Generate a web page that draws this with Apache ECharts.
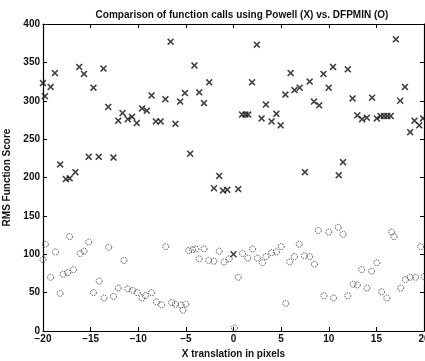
<!DOCTYPE html>
<html>
<head>
<meta charset="utf-8">
<script src="https://cdn.jsdelivr.net/npm/echarts@6/dist/echarts.min.js"></script>
<style>
html, body { margin: 0; padding: 0; background: #fff; }
#main { width: 425px; height: 361px; }
</style>
</head>
<body>
<div id="main"></div>
<script>
// Powell (X) points
var powellX = [-20, -19.8, -19.2, -18.75, -18.2, -17.6, -17.2, -16.6, -16.2, -15.7,
  -15.2, -14.7, -14.15, -13.65, -13.15, -12.6, -12.1, -11.65, -11.1, -10.65,
  -10.15, -9.6, -9.1, -8.6, -8.15, -7.65, -7.15, -6.6, -6.1, -5.6,
  -5.1, -4.55, -4.1, -3.6, -3.1, -2.55, -2.05, -1.5, -1.1, -0.65,
  0, 0.5, 0.9, 1.25, 1.55, 1.95, 2.45, 2.95, 3.4, 4.0,
  4.5, 4.95, 5.45, 6.0, 6.4, 6.95, 7.5, 8.0, 8.45, 9.0,
  9.45, 10.0, 10.45, 11.05, 11.5, 12.0, 12.5, 13.0, 13.5, 14.0,
  14.55, 15.05, 15.45, 15.8, 16.15, 16.5, 17.05, 17.5, 18.0, 18.55,
  19.0, 19.5, 19.9];
var powellY = [323, 306, 318, 336, 217, 198, 199, 207, 344, 335,
  227, 317, 227, 342, 292, 226, 274, 284, 276, 279,
  271, 290, 287, 307, 273, 273, 302, 377, 270, 299,
  310, 231, 346, 311, 297, 324, 186, 202, 183, 184,
  100, 185, 282, 282, 282, 324, 373, 277, 295, 273,
  283, 268, 308, 336, 314, 317, 207, 325, 299, 294,
  335, 317, 344, 203, 220, 341, 303, 281, 276, 278,
  304, 277, 280, 280, 280, 280, 380, 300, 318, 259,
  274, 268, 277];

// DFPMIN (O) points
var dfpX = [-20, -19.75, -19.2, -18.7, -18.2, -17.9, -17.4, -17.2, -16.8, -16.1,
  -15.7, -15.2, -14.7, -14.1, -13.6, -13.1, -12.6, -12.1, -11.5, -11.1,
  -10.6, -10.1, -9.6, -9.25, -8.6, -8.1, -7.55, -7.1, -6.5, -6.1,
  -5.5, -5.3, -5.0, -4.7, -4.3, -3.95, -3.6, -3.1, -2.6, -2.05,
  -1.5, -1.0, -0.45, 0.1, 0.5, 0.95, 1.5, 2.0, 2.5, 3.05,
  3.4, 4.0, 4.5, 5.0, 5.5, 5.9, 6.4, 6.9, 7.45, 8.0,
  8.5, 8.9, 9.5, 10.0, 10.5, 11.0, 11.5, 12.0, 12.55, 13.0,
  13.45, 14.0, 14.5, 15.05, 15.55, 16.1, 16.6, 16.85, 17.55, 18.05,
  18.55, 19.1, 19.65, 20.0];
var dfpY = [93, 113, 70, 103, 49, 74, 76, 123, 80, 101,
  104, 116, 50, 65, 43, 109, 45, 56, 92, 55,
  53, 50, 43, 46, 50, 38, 34, 110, 37, 35,
  34, 27, 35, 105, 106, 107, 94, 107, 92, 91,
  104, 90, 94, 4, 70, 101, 95, 107, 95, 89,
  97, 102, 103, 110, 36, 90, 97, 113, 98, 97,
  87, 131, 46, 129, 43, 135, 126, 46, 61, 60,
  80, 56, 78, 89, 51, 43, 129, 123, 56, 67,
  70, 70, 110, 71];

function zip(a, b) {
  var out = [];
  for (var i = 0; i < a.length && i < b.length; i++) {
    out.push([a[i], b[i]]);
  }
  return out;
}

var crossPath = 'path://M0,1.6L1.6,0L5,3.4L8.4,0L10,1.6L6.6,5L10,8.4L8.4,10L5,6.6L1.6,10L0,8.4L3.4,5Z';
var fontFam = '"Liberation Sans", Arial, sans-serif';

var chart = echarts.init(document.getElementById('main'));

var option = {
  backgroundColor: '#fff',
  animation: false,
  title: {
    text: 'Comparison of function calls using Powell (X) vs. DFPMIN (O)',
    left: 237,
    top: 5,
    textAlign: 'center',
    textStyle: { fontFamily: fontFam, fontSize: 10, fontWeight: 'bold', color: '#111' }
  },
  grid: { left: 43, right: 1, top: 24, bottom: 30, outerBoundsMode: 'none', containLabel: false },
  xAxis: [
    {
      type: 'value', min: -20, max: 20, interval: 5,
      name: 'X translation in pixels', nameLocation: 'middle', nameGap: 17,
      nameTextStyle: { fontFamily: fontFam, fontSize: 10, fontWeight: 'bold', color: '#111' },
      axisLine: { onZero: false, lineStyle: { color: '#000', width: 1.2 } },
      axisTick: { inside: true, length: 4, lineStyle: { color: '#000' } },
      axisLabel: {
        fontFamily: fontFam, fontSize: 10, fontWeight: 'bold', color: '#111', margin: 3,
        formatter: function (v) { return String(v).replace('-', '\u2212'); }
      },
      splitLine: { show: false }
    },
    {
      type: 'value', min: -20, max: 20, interval: 5, position: 'top',
      axisLine: { onZero: false, lineStyle: { color: '#000', width: 1.2 } },
      axisTick: { inside: true, length: 4, lineStyle: { color: '#000' } },
      axisLabel: { show: false },
      splitLine: { show: false }
    }
  ],
  yAxis: [
    {
      type: 'value', min: 0, max: 400, interval: 50,
      name: 'RMS Function Score', nameLocation: 'middle', nameGap: 25,
      nameTextStyle: { fontFamily: fontFam, fontSize: 10, fontWeight: 'bold', color: '#111' },
      axisLine: { onZero: false, lineStyle: { color: '#000', width: 1.2 } },
      axisTick: { inside: true, length: 4, lineStyle: { color: '#000' } },
      axisLabel: { fontFamily: fontFam, fontSize: 10, fontWeight: 'bold', color: '#111', margin: 3 },
      splitLine: { show: false }
    },
    {
      type: 'value', min: 0, max: 400, interval: 50, position: 'right',
      axisLine: { onZero: false, lineStyle: { color: '#000', width: 1.2 } },
      axisTick: { inside: true, length: 4, lineStyle: { color: '#000' } },
      axisLabel: { show: false },
      splitLine: { show: false }
    }
  ],
  series: [
    {
      name: 'DFPMIN',
      type: 'scatter',
      data: zip(dfpX, dfpY),
      symbol: 'circle',
      symbolSize: 6,
      itemStyle: {
        color: 'rgba(0,0,0,0)',
        borderColor: '#333',
        borderWidth: 1,
        borderType: [1.5, 1]
      }
    },
    {
      name: 'Powell',
      type: 'scatter',
      data: zip(powellX, powellY),
      symbol: crossPath,
      symbolSize: 7,
      itemStyle: { color: '#111' }
    }
  ]
};

chart.setOption(option);
window.addEventListener('resize', function () {
  chart.resize();
});
</script>
</body>
</html>
